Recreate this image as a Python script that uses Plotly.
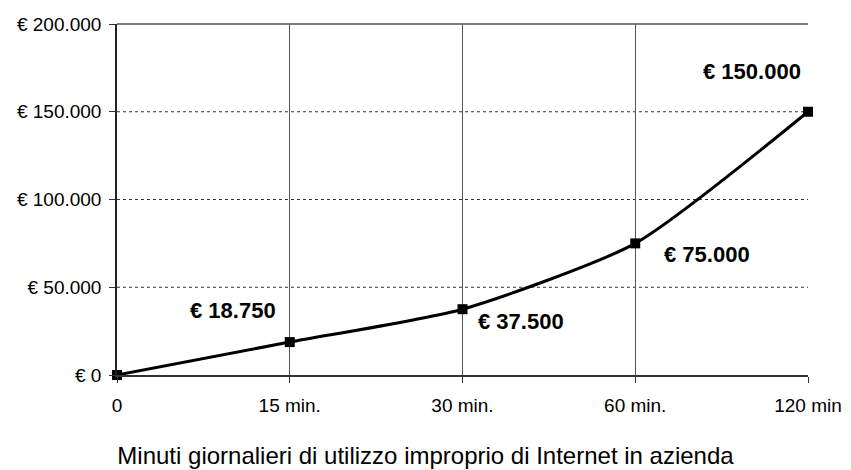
import plotly.graph_objects as go

categories = ["0", "15 min.", "30 min.", "60 min.", "120 min"]
values = [0, 18750, 37500, 75000, 150000]
labels = ["", "€ 18.750", "€ 37.500", "€ 75.000", "€ 150.000"]
y_ticks = [0, 50000, 100000, 150000, 200000]
y_ticktext = ["€ 0", "€ 50.000", "€ 100.000", "€ 150.000", "€ 200.000"]
x_title = "Minuti giornalieri di utilizzo improprio di Internet in azienda"

xpos = list(range(len(categories)))
FONT = "Liberation Sans, Arial, sans-serif"

fig = go.Figure()
fig.add_trace(go.Scatter(
    x=xpos, y=values, mode="lines+markers",
    line=dict(color="black", width=3, shape="spline", smoothing=0.6),
    marker=dict(symbol="square", size=10, color="black"),
    showlegend=False, hoverinfo="skip", cliponaxis=False,
))

# dotted horizontal gridlines
for v in y_ticks[1:-1]:
    fig.add_shape(type="line", xref="x domain", yref="y", x0=0, x1=1, y0=v, y1=v,
                  line=dict(color="#333333", width=1, dash="dot"), layer="below")
# top border
fig.add_shape(type="line", xref="x domain", yref="y domain", x0=0, x1=1, y0=1, y1=1,
              line=dict(color="#555555", width=1.5), layer="below")

offsets = [None, (-57, 32), (58, -12), (72, -11), (-56, 40)]
for i, lab in enumerate(labels):
    if not lab:
        continue
    dx, dy = offsets[i]
    fig.add_annotation(x=xpos[i], y=values[i], text=f"<b>{lab}</b>", showarrow=False,
                       xshift=dx, yshift=dy, font=dict(family=FONT, size=22, color="black"))

fig.update_layout(
    width=851, height=470,
    margin=dict(l=117, r=43, t=24, b=95),
    paper_bgcolor="white", plot_bgcolor="white",
    font=dict(family=FONT, size=19, color="black"),
    title=dict(text=x_title, x=0.5, xref="container", xanchor="center",
               y=0.03, yref="container", yanchor="middle",
               font=dict(family=FONT, size=24, color="black")),
)
fig.update_xaxes(
    range=[0, 4], tickmode="array", tickvals=xpos, ticktext=categories,
    showgrid=True, gridcolor="#555555", gridwidth=1,
    showline=True, linecolor="#333333", linewidth=1.5,
    ticks="outside", ticklen=6, tickcolor="#333333",
    zeroline=False, ticklabelstandoff=6,
    tickfont=dict(family=FONT, size=19),
    automargin=False,
)
fig.update_yaxes(
    range=[0, 200000], tickmode="array", tickvals=y_ticks, ticktext=y_ticktext,
    showgrid=False, showline=True, linecolor="#222222", linewidth=1.5,
    ticks="outside", ticklen=6, tickcolor="#333333", zeroline=False,
    ticklabelstandoff=4,
    tickfont=dict(family=FONT, size=19),
    automargin=False,
)

fig.write_html("out.html", config={"displayModeBar": False},
               post_script="document.body.style.margin='0';")
